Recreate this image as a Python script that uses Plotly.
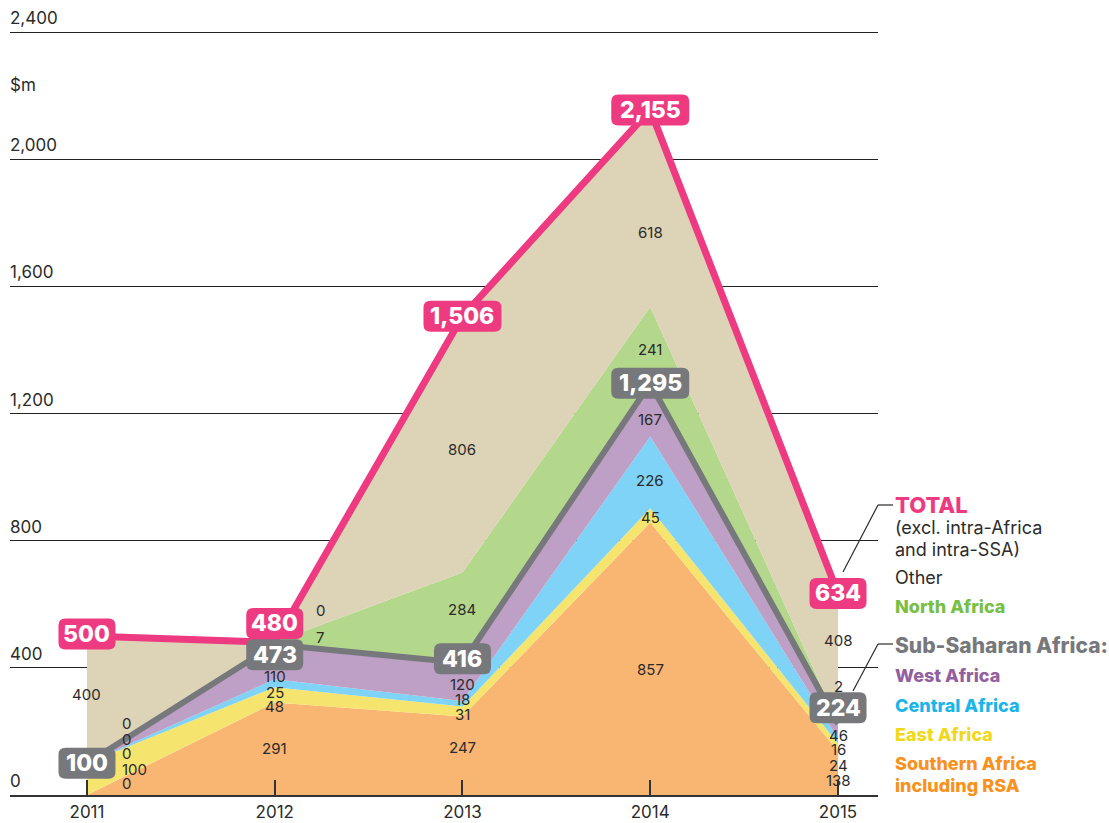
import plotly.graph_objects as go

# Values in $m, by year
years = [2011, 2012, 2013, 2014, 2015]
southern = [0, 291, 247, 857, 138]
east = [100, 48, 31, 45, 24]
central = [0, 25, 18, 226, 16]
west = [0, 110, 120, 167, 46]
north = [0, 7, 284, 241, 2]
other = [400, 0, 806, 618, 408]
ssa_total = [100, 473, 416, 1295, 224]
grand_total = [500, 480, 1506, 2155, 634]
y_ticks = [0, 400, 800, 1200, 1600, 2000, 2400]

FONT = "Inter"
TEXT = "#2b2b2b"
PINK = "#EE3A80"
GREY = "#77787B"

# stacked bands, bottom to top: (name, values, fill, pixel nudges for value labels)
bands = [
    ("Southern Africa", southern, "#F9B572", [12, 0, 8, -11, -7]),
    ("East Africa", east, "#F5E46E", [10, -12, -3, -2, -18]),
    ("Central Africa", central, "#7ED3F6", [10, -9, 4, -8, -9]),
    ("West Africa", west, "#BE9FC5", [24, -15, -3, -10, -4]),
    ("North Africa", north, "#B3D88C", [40, 6, 8, -5, 37]),
    ("Other", other, "#DDD3B7", [5, 32, -5, -24, 18]),
]
# horizontal nudges for value labels that sit beside their point
label_dx = {
    (0, 0): 34, (1, 0): 34, (2, 0): 34, (3, 0): 34, (4, 0): 34,
    (4, 1): 40, (5, 1): 40,
}

W, H = 1109, 823
L, R, T, B = 10, 231, 24, 28
plot_w = W - L - R
plot_h = H - T - B
Y_TOP = 2400 * plot_h / 763.0  # headroom so the 2,400 gridline is drawn


def px_x(p):
    return (p - L) / plot_w


def px_y(p):
    return (H - B - p) / plot_h


fig = go.Figure()

for name, vals, col, _ in bands:
    fig.add_trace(go.Scatter(
        x=years, y=vals, name=name, stackgroup="one", mode="lines",
        line=dict(width=0), fillcolor=col, hoverinfo="skip",
    ))

fig.add_trace(go.Scatter(x=years, y=ssa_total, mode="lines",
                         line=dict(color=GREY, width=6), hoverinfo="skip"))
fig.add_trace(go.Scatter(x=years, y=grand_total, mode="lines",
                         line=dict(color=PINK, width=7), hoverinfo="skip"))

annotations = []
shapes = []

# value labels at the middle of each band
base = [0] * len(years)
for bi, (name, vals, col, nudges) in enumerate(bands):
    for i, v in enumerate(vals):
        mid = base[i] + v / 2
        dx = label_dx.get((bi, i), 0)
        annotations.append(dict(
            x=years[i], y=mid, text=str(v), showarrow=False,
            xanchor="left" if dx else "center", xshift=dx, yshift=nudges[i],
            font=dict(family=FONT, size=15, color=TEXT), borderpad=0,
        ))
        base[i] += v


def box_path(w, h, r, dy):
    x0, x1 = -w / 2, w / 2
    y0, y1 = dy - h / 2, dy + h / 2
    return (f"M{x0 + r},{y0} L{x1 - r},{y0} Q{x1},{y0} {x1},{y0 + r} "
            f"L{x1},{y1 - r} Q{x1},{y1} {x1 - r},{y1} L{x0 + r},{y1} "
            f"Q{x0},{y1} {x0},{y1 - r} L{x0},{y0 + r} Q{x0},{y0} {x0 + r},{y0} Z")


def boxed_labels(values, color, shifts):
    for yr, v, dy in zip(years, values, shifts):
        txt = f"{v:,}"
        w = 57 if len(txt) <= 3 else 78
        shapes.append(dict(
            type="path", xref="x", yref="y", xsizemode="pixel", ysizemode="pixel",
            xanchor=yr, yanchor=v, path=box_path(w, 31, 7, dy),
            fillcolor=color, line=dict(width=0), layer="above",
        ))
        annotations.append(dict(
            x=yr, y=v, yshift=dy, text=txt, showarrow=False,
            font=dict(family=FONT, size=23, color="white", weight=800),
        ))


boxed_labels(ssa_total, GREY, [0, -10, 4, 0, 16])
boxed_labels(grand_total, PINK, [2, 19, 0, 0, 0])

# y-axis labels sit above their gridlines
for t in y_ticks:
    annotations.append(dict(
        xref="paper", yref="y", x=0, y=t, text=f"{t:,}", showarrow=False,
        xanchor="left", yanchor="bottom", xshift=-2, yshift=2,
        font=dict(family=FONT, size=17, color=TEXT),
    ))
annotations.append(dict(
    xref="paper", yref="paper", x=0, y=px_y(85), text="$m", showarrow=False,
    xanchor="left", yanchor="middle", xshift=-2,
    font=dict(family=FONT, size=17, color=TEXT),
))

# key on the right: (text, colour, centre y in px, size, weight)
key = [
    ("TOTAL", PINK, 505, 22, 800),
    ("(excl. intra-Africa", TEXT, 527, 18, 400),
    ("and intra-SSA)", TEXT, 549, 18, 400),
    ("Other", TEXT, 577, 18, 400),
    ("North Africa", "#79BE45", 606, 18, 800),
    ("Sub-Saharan Africa:", GREY, 645, 21, 800),
    ("West Africa", "#9260A0", 675, 18, 800),
    ("Central Africa", "#1CB5EA", 705, 18, 800),
    ("East Africa", "#F0D81C", 734, 18, 800),
    ("Southern Africa", "#F7921E", 763, 18, 800),
    ("including RSA", "#F7921E", 785, 18, 800),
]
for txt, col, ypx, size, wt in key:
    annotations.append(dict(
        xref="paper", yref="paper", x=px_x(893), y=px_y(ypx), text=txt,
        showarrow=False, xanchor="left", yanchor="middle",
        font=dict(family=FONT, size=size, color=col, weight=wt),
    ))

# leader lines from the key to the 2015 labels
for (hx, hy), (ex, ey) in [((878, 505), (843, 572)), ((878, 644), (853, 691))]:
    for (xa, ya), (xb, yb) in [((hx, hy), (893, hy)), ((hx, hy), (ex, ey))]:
        shapes.append(dict(
            type="line", xref="paper", yref="paper",
            x0=px_x(xa), y0=px_y(ya), x1=px_x(xb), y1=px_y(yb),
            line=dict(color=TEXT, width=1.2), layer="above",
        ))

fig.update_layout(
    width=W, height=H,
    margin=dict(l=L, r=R, t=T, b=B),
    paper_bgcolor="white", plot_bgcolor="white",
    showlegend=False,
    font=dict(family=FONT, color=TEXT),
    annotations=annotations, shapes=shapes,
    xaxis=dict(
        range=[2010.59, 2015.213], tickvals=years, ticktext=[str(y) for y in years],
        showgrid=False, zeroline=False, showline=True, linecolor="#333", linewidth=2,
        ticks="inside", ticklen=15, tickwidth=1.5, tickcolor="#333",
        tickfont=dict(family=FONT, size=17, color=TEXT), fixedrange=True,
        automargin=False, ticklabelstandoff=1,
    ),
    yaxis=dict(
        range=[0, Y_TOP], tickvals=y_ticks, showticklabels=False,
        showgrid=True, gridcolor="#222", gridwidth=1.2, zeroline=False,
        fixedrange=True, automargin=False,
    ),
)

fig.write_html("out.html", config={"displayModeBar": False})
